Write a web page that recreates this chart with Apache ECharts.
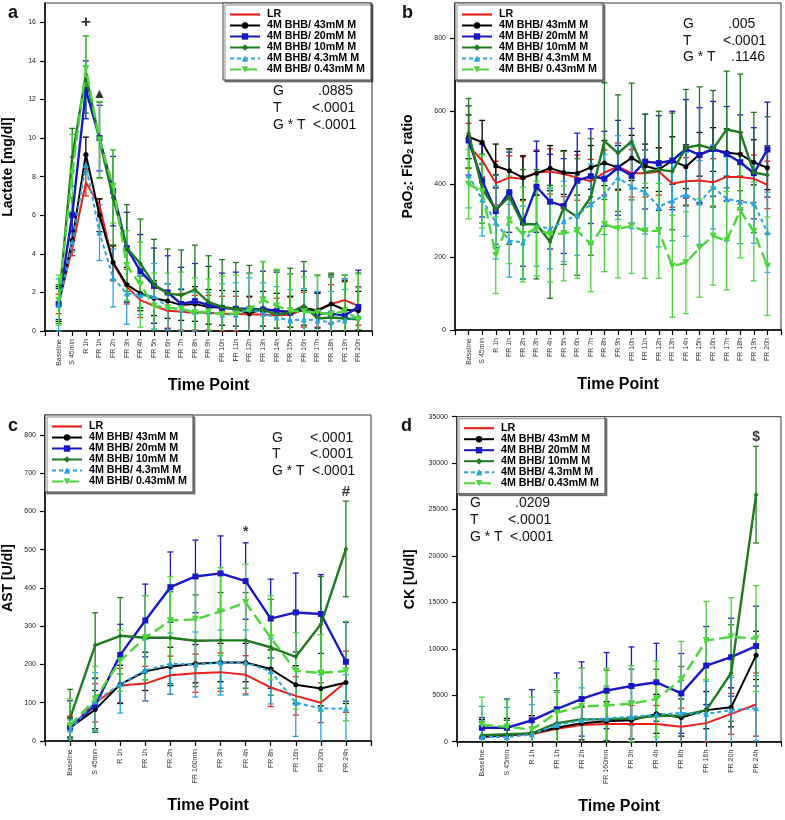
<!DOCTYPE html>
<html><head><meta charset="utf-8">
<script src="https://cdn.jsdelivr.net/npm/echarts@6/dist/echarts.min.js"></script>
<style>html,body{margin:0;padding:0;background:#fff}#c{width:785px;height:820px}</style>
</head><body><div id="c"></div>
<script>
const seriesNames = ['LR','4M BHB/ 43mM M','4M BHB/ 20mM M','4M BHB/ 10mM M','4M BHB/ 4.3mM M','4M BHB/ 0.43mM M'];
const catsAB = ['Baseline','S 45min','R 1h','FR 1h','FR 2h','FR 3h','FR 4h','FR 5h','FR 6h','FR 7h','FR 8h','FR 9h','FR 10h','FR 11h','FR 12h','FR 13h','FR 14h','FR 15h','FR 16h','FR 17h','FR 18h','FR 19h','FR 20h'];
const catsCD = ['Baseline','S 45min','R 1h','FR 1h','FR 2h','FR 160min','FR 3h','FR 4h','FR 8h','FR 16h','FR 20h','PR 24h'];

// Panel a: Lactate [mg/dl]
const lac_LR = [1.4, 4.3, 7.7, 6.5, 3.5, 2.3, 1.6, 1.3, 1.05, 1.0, 0.95, 0.95, 0.9, 0.9, 0.85, 0.85, 0.8, 0.85, 1.1, 1.1, 1.4, 1.6, 1.3];
const lac_43 = [1.4, 4.7, 9.15, 6.0, 3.55, 2.4, 1.95, 1.7, 1.55, 1.35, 1.4, 1.25, 1.2, 1.15, 0.9, 1.15, 1.05, 1.0, 1.2, 1.05, 1.4, 1.1, 1.05];
const lac_20 = [1.4, 6.0, 12.5, 10.0, 7.25, 4.3, 3.1, 2.35, 2.0, 1.4, 1.55, 1.35, 1.2, 1.15, 1.15, 1.1, 1.05, 0.95, 1.15, 0.9, 0.9, 0.8, 1.25];
const lac_10 = [1.4, 9.0, 13.3, 9.9, 6.9, 4.3, 3.5, 2.4, 1.95, 1.85, 2.15, 1.5, 1.25, 1.15, 1.05, 1.1, 0.85, 0.95, 1.3, 0.65, 0.7, 0.65, 0.6];
const lac_4 = [1.35, 4.6, 8.6, 5.1, 2.75, 1.95, 1.85, 1.8, 1.25, 1.1, 1.0, 1.0, 0.85, 0.85, 1.15, 0.9, 0.7, 0.55, 0.6, 0.55, 0.45, 0.55, 0.75];
const lac_04 = [1.6, 8.2, 13.6, 9.9, 7.5, 3.4, 2.4, 1.3, 1.2, 1.15, 0.95, 1.0, 0.85, 0.9, 1.1, 1.6, 1.3, 1.05, 1.0, 0.95, 0.85, 1.05, 0.6];
const lac_LR_sd = [0.5, 0.4, 0.7, 0.35, 0.9, 0.9, 0.9, 0.9, 0.9, 0.95, 0.9, 0.9, 0.9, 0.9, 0.9, 0.9, 0.9, 0.9, 0.9, 0.9, 1.0, 0.95, 1.0];
const lac_43_sd = [0.9, 0.5, 0.9, 0.85, 0.9, 0.9, 0.9, 0.9, 0.9, 0.8, 0.9, 0.9, 0.9, 0.9, 0.9, 0.9, 0.9, 0.8, 0.9, 0.9, 1.5, 1.5, 1.0];
const lac_20_sd = [0.8, 0.9, 1.5, 1.7, 1.8, 1.85, 1.9, 1.95, 1.9, 1.9, 1.95, 2.0, 1.8, 1.9, 1.85, 2.0, 2.0, 2.0, 1.95, 1.1, 1.9, 1.9, 1.9];
const lac_10_sd = [1.0, 1.5, 2.0, 1.95, 2.5, 2.25, 2.3, 2.35, 2.3, 2.35, 2.3, 2.4, 2.45, 2.4, 2.35, 2.5, 2.3, 2.3, 2.3, 2.25, 2.3, 2.25, 2.4];
const lac_4_sd = [1.35, 0.5, 0.5, 1.45, 1.5, 1.6, 1.0, 1.7, 1.2, 1.1, 1.0, 1.0, 1.6, 1.65, 1.6, 1.6, 1.6, 1.6, 1.6, 1.5, 1.6, 1.6, 1.5];
const lac_04_sd = [1.3, 2.0, 1.7, 2.0, 1.9, 1.8, 2.2, 1.7, 1.8, 1.9, 1.8, 1.7, 2.0, 2.0, 1.9, 2.0, 1.9, 1.9, 1.8, 1.9, 2.0, 1.85, 2.35];

// Panel b: PaO2:FiO2 ratio
const pf_LR = [505, 465, 403, 418, 415, 432, 435, 428, 418, 408, 432, 448, 430, 430, 435, 402, 408, 410, 405, 420, 420, 415, 398];
const pf_43 = [530, 515, 450, 437, 418, 430, 444, 432, 430, 446, 458, 446, 472, 450, 440, 465, 448, 482, 495, 487, 482, 460, 445];
const pf_20 = [520, 410, 326, 378, 295, 393, 352, 340, 410, 422, 415, 445, 423, 462, 458, 465, 497, 480, 497, 483, 460, 430, 495];
const pf_10 = [540, 388, 330, 365, 290, 290, 242, 335, 310, 365, 518, 485, 517, 432, 440, 435, 500, 507, 497, 550, 542, 432, 425];
const pf_4 = [425, 358, 295, 245, 240, 285, 278, 298, 315, 345, 372, 418, 393, 378, 338, 355, 372, 350, 392, 360, 352, 348, 268];
const pf_04 = [400, 380, 205, 302, 262, 278, 262, 265, 272, 235, 290, 278, 285, 272, 272, 175, 185, 225, 258, 245, 328, 270, 175];
const pf_LR_sd = [62, 45, 60, 60, 60, 62, 62, 62, 62, 60, 62, 65, 65, 65, 65, 65, 65, 65, 65, 65, 65, 65, 65];
const pf_43_sd = [60, 60, 60, 60, 60, 60, 62, 60, 60, 60, 62, 60, 62, 60, 60, 65, 60, 60, 60, 65, 60, 62, 60];
const pf_20_sd = [95, 100, 100, 110, 120, 125, 130, 130, 130, 130, 130, 130, 130, 130, 130, 135, 135, 130, 130, 130, 130, 125, 130];
const pf_10_sd = [95, 95, 95, 130, 150, 150, 155, 155, 160, 160, 160, 160, 160, 160, 160, 160, 160, 160, 160, 160, 160, 165, 160];
const pf_4_sd = [90, 100, 100, 100, 100, 110, 110, 110, 110, 110, 110, 115, 115, 115, 110, 110, 115, 115, 115, 115, 115, 110, 110];
const pf_04_sd = [95, 100, 105, 120, 130, 130, 130, 130, 130, 130, 130, 135, 130, 130, 130, 140, 140, 135, 135, 135, 130, 135, 135];

// Panel c: AST [U/dl]
const ast_LR = [35, 100, 145, 150, 172, 177, 180, 173, 140, 118, 100, 155];
const ast_43 = [35, 82, 148, 182, 195, 202, 205, 205, 188, 147, 137, 153];
const ast_20 = [35, 93, 225, 315, 402, 430, 438, 418, 320, 336, 332, 207];
const ast_10 = [60, 250, 275, 270, 270, 262, 263, 263, 245, 220, 305, 502];
const ast_4 = [30, 103, 148, 185, 202, 200, 205, 205, 182, 100, 85, 85];
const ast_04 = [40, 110, 210, 270, 315, 318, 338, 362, 270, 183, 178, 183];
const ast_LR_sd = [30, 50, 45, 45, 50, 50, 50, 50, 50, 50, 52, 80];
const ast_43_sd = [25, 50, 50, 50, 50, 50, 50, 50, 50, 50, 45, 55];
const ast_20_sd = [70, 70, 80, 95, 92, 95, 98, 100, 103, 103, 103, 103];
const ast_10_sd = [75, 85, 100, 110, 120, 120, 125, 125, 125, 120, 125, 125];
const ast_4_sd = [25, 75, 75, 80, 80, 85, 85, 85, 85, 88, 88, 88];
const ast_04_sd = [70, 85, 80, 110, 115, 115, 115, 100, 110, 100, 100, 130];

// Panel d: CK [U/dl]
const ck_LR = [600, 700, 800, 1400, 1800, 1900, 1900, 1900, 1600, 2000, 3000, 4000];
const ck_43 = [500, 700, 900, 1500, 2000, 2200, 2300, 3000, 2600, 3400, 3700, 9300];
const ck_20 = [1500, 1500, 2300, 3500, 4600, 5500, 6000, 6400, 5200, 8200, 9100, 10300];
const ck_10 = [700, 800, 900, 2000, 2400, 2400, 2500, 2800, 2800, 3400, 7400, 26600];
const ck_4 = [500, 500, 800, 1800, 2300, 2500, 2700, 2900, 3100, 3000, 3400, 3600];
const ck_04 = [1800, 1600, 1300, 3100, 3800, 3900, 4100, 4600, 6700, 10900, 11300, 11100];
const ck_LR_sd = [1800, 1800, 2000, 1900, 1900, 2000, 2000, 2000, 2000, 2000, 2200, 3400];
const ck_43_sd = [1900, 1800, 1900, 1800, 1800, 2100, 2000, 2100, 2000, 2000, 2100, 2600];
const ck_20_sd = [1100, 3100, 3300, 3900, 4000, 4100, 4200, 4200, 4300, 4200, 4200, 4300];
const ck_10_sd = [1500, 1500, 1500, 3500, 5500, 5300, 5300, 5000, 5300, 5000, 5200, 5200];
const ck_4_sd = [3300, 3200, 3200, 3500, 3500, 3500, 3500, 3500, 3500, 3500, 3500, 3500];
const ck_04_sd = [3000, 2900, 3500, 3700, 4100, 4000, 4100, 4100, 4100, 4200, 4200, 5700];

// Y axis ticks
const yTicksA = {max: 17, interval: 2};
const yTicksB = {max: 897, interval: 200};
const yTicksC = {max: 852, interval: 100};
const yTicksD = {max: 35000, interval: 5000};

// Annotations [category, value, text, fontSize]
const annA = [['R 1h', 16.0, '+', 17], ['FR 1h', 12.3, '▲', 14]];
const annC = [['FR 4h', 545, '*', 14], ['PR 24h', 652, '#', 15]];
const annD = [['PR 24h', 32760, '$', 14]];

const FONT = '"Liberation Sans", Arial, Helvetica, sans-serif';
const colors = ['#e8201c', '#000000', '#1818c4', '#1f7a1f', '#2aa4dc', '#4cd63c'];
const symbols = ['none', 'circle', 'rect', 'diamond', 'triangle', 'triangle'];
const symSizes = [0, 5, 6, 5, 6, 7];
const symRot = [0, 0, 0, 0, 0, 180];
const lineTypes = ['solid', 'solid', 'solid', 'solid', [4, 3], [11, 5]];
const lineWidths = [2, 2, 2.4, 2.4, 2, 2.4];

const panels = [
  {cats: catsAB, means: [lac_LR, lac_43, lac_20, lac_10, lac_4, lac_04], sds: [lac_LR_sd, lac_43_sd, lac_20_sd, lac_10_sd, lac_4_sd, lac_04_sd],
   grid: {left: 45, top: 3, width: 327, height: 328}, y: yTicksA, yName: 'Lactate [mg/dl]', yGap: 30, xGap: 47, legend: {left: 223, top: 3}, ann: annA, showMax: false},
  {cats: catsAB, means: [pf_LR, pf_43, pf_20, pf_10, pf_4, pf_04], sds: [pf_LR_sd, pf_43_sd, pf_20_sd, pf_10_sd, pf_4_sd, pf_04_sd],
   grid: {left: 455, top: 3, width: 326, height: 327}, y: yTicksB, yName: 'PaO{s|2}: FiO{s|2} ratio', yGap: 40, xGap: 47, legend: {left: 455, top: 3}, ann: [], showMax: false},
  {cats: catsCD, means: [ast_LR, ast_43, ast_20, ast_10, ast_4, ast_04], sds: [ast_LR_sd, ast_43_sd, ast_20_sd, ast_10_sd, ast_4_sd, ast_04_sd],
   grid: {left: 45, top: 415, width: 326, height: 326}, y: yTicksC, yName: 'AST [U/dl]', yGap: 30, xGap: 57, legend: {left: 45, top: 415}, ann: annC, showMax: false},
  {cats: catsCD, means: [ck_LR, ck_43, ck_20, ck_10, ck_4, ck_04], sds: [ck_LR_sd, ck_43_sd, ck_20_sd, ck_10_sd, ck_4_sd, ck_04_sd],
   grid: {left: 457, top: 416.7, width: 324, height: 325}, y: yTicksD, yName: 'CK [U/dl]', yGap: 40, xGap: 57, legend: {left: 457, top: 416.7}, ann: annD, showMax: true}
];

const grids = [], xAxes = [], yAxes = [], series = [], legends = [];
panels.forEach((p, gi) => {
  grids.push(Object.assign({show: true, borderColor: '#333', borderWidth: 1, backgroundColor: '#fff'}, p.grid));
  const padCats = [''].concat(p.cats, ['']);
  xAxes.push({
    type: 'category', gridIndex: gi, data: padCats, boundaryGap: false,
    axisLine: {lineStyle: {color: '#000', width: 1.5}},
    axisTick: {length: 5, interval: 0, lineStyle: {color: '#000', width: 1.2}},
    axisLabel: {interval: 0, rotate: 90, fontSize: 7, color: '#333', fontFamily: FONT, margin: 8},
    name: 'Time Point', nameLocation: 'middle', nameGap: p.xGap,
    nameTextStyle: {fontSize: 16, fontWeight: 'bold', color: '#000', fontFamily: FONT},
    splitLine: {show: false}
  });
  yAxes.push({
    type: 'value', gridIndex: gi, min: 0, max: p.y.max, interval: p.y.interval,
    axisLine: {show: true, lineStyle: {color: '#000', width: 1.5}},
    axisTick: {show: true, length: 5, lineStyle: {color: '#000', width: 1.2}},
    axisLabel: {fontSize: 7, color: '#222', fontFamily: FONT, margin: 9, showMaxLabel: p.showMax, formatter: v => String(v)},
    splitLine: {show: false},
    name: p.yName, nameLocation: 'middle', nameGap: p.yGap,
    nameTextStyle: {fontSize: 14, fontWeight: 'bold', color: '#000', fontFamily: FONT,
      rich: {s: {fontSize: 9, fontWeight: 'bold', fontFamily: FONT, color: '#000', verticalAlign: 'bottom', lineHeight: 12}}}
  });
  // error bars
  p.means.forEach((m, si) => {
    const sd = p.sds[si];
    const col = colors[si];
    series.push({
      type: 'custom', name: seriesNames[si] + ' SD', xAxisIndex: gi, yAxisIndex: gi, z: 2, silent: true,
      data: m.map((v, i) => [i + 1, Math.max(0, v - sd[i]), v + sd[i], v - sd[i] < 0 ? 1 : 0]),
      encode: {x: 0, y: [1, 2]},
      renderItem: (params, api) => {
        const x = api.value(0);
        const lo = api.coord([x, api.value(1)]);
        const hi = api.coord([x, api.value(2)]);
        const w = 3;
        const st = {stroke: col, lineWidth: 1.3};
        const ch = [
          {type: 'line', shape: {x1: lo[0], y1: lo[1], x2: hi[0], y2: hi[1]}, style: st},
          {type: 'line', shape: {x1: hi[0] - w, y1: hi[1], x2: hi[0] + w, y2: hi[1]}, style: st}
        ];
        if (!api.value(3)) ch.push({type: 'line', shape: {x1: lo[0] - w, y1: lo[1], x2: lo[0] + w, y2: lo[1]}, style: st});
        return {type: 'group', children: ch};
      }
    });
  });
  // lines
  p.means.forEach((m, si) => {
    series.push({
      type: 'line', name: seriesNames[si], xAxisIndex: gi, yAxisIndex: gi, z: 3 + si,
      data: [null].concat(m, [null]),
      symbol: symbols[si], symbolSize: symSizes[si], symbolRotate: symRot[si], showSymbol: si > 0,
      lineStyle: {color: colors[si], width: lineWidths[si], type: lineTypes[si]},
      itemStyle: {color: colors[si]},
      animation: false
    });
  });
  // annotations
  if (p.ann.length) {
    series.push({
      type: 'scatter', name: 'ann' + gi, xAxisIndex: gi, yAxisIndex: gi, symbolSize: 0, z: 20, silent: true,
      data: p.ann.map(a => ({value: [p.cats.indexOf(a[0]) + 1, a[1]], label: {formatter: a[2], fontSize: a[3]}})),
      label: {show: true, position: 'inside', color: '#000', fontWeight: 'bold', fontFamily: FONT}
    });
  }
  legends.push({
    left: p.legend.left, top: p.legend.top, orient: 'vertical',
    data: seriesNames.map((n, i) => i === 0 ? {name: n, icon: 'path://M0,0H30V2.2H0Z'} : n),
    itemGap: 0, itemWidth: 30, itemHeight: 8, selectedMode: false,
    padding: [6, 6, 5, 6],
    backgroundColor: '#fff', borderColor: '#444', borderWidth: 1,
    shadowColor: 'rgba(0,0,0,0.45)', shadowOffsetX: 2, shadowOffsetY: 2, shadowBlur: 0,
    textStyle: {fontSize: 10.7, fontWeight: 'bold', lineHeight: 10, color: '#000', fontFamily: FONT, padding: [0, 0, 0, 2]}
  });
});

function txt(x, y, t, size, bold) {
  return {type: 'text', x: x, y: y, z: 50,
    style: {text: t, fill: '#111', font: (bold ? 'bold ' : '') + size + 'px ' + FONT, align: 'left', verticalAlign: 'middle'}};
}
const graphics = [
  txt(8, 13, 'a', 18, true), txt(402, 13, 'b', 18, true), txt(8, 426, 'c', 18, true), txt(401, 426, 'd', 18, true),
  txt(273, 91, 'G', 14), txt(318, 91, '.0885', 14),
  txt(273, 108, 'T', 14), txt(312, 108, '<.0001', 14),
  txt(273, 125, 'G * T', 14), txt(313, 125, '<.0001', 14),
  txt(683, 24, 'G', 14), txt(728, 24, '.005', 14),
  txt(683, 41, 'T', 14), txt(723, 41, '<.0001', 14),
  txt(683, 57, 'G * T', 14), txt(731, 57, '.1146', 14),
  txt(272, 438, 'G', 14), txt(310, 438, '<.0001', 14),
  txt(272, 454, 'T', 14), txt(310, 454, '<.0001', 14),
  txt(272, 471, 'G * T', 14), txt(312, 471, '<.0001', 14),
  txt(470, 503, 'G', 14), txt(515, 503, '.0209', 14),
  txt(470, 520, 'T', 14), txt(508, 520, '<.0001', 14),
  txt(470, 537, 'G * T', 14), txt(510, 537, '<.0001', 14)
];

const chart = echarts.init(document.getElementById('c'), null, {renderer: 'canvas'});
chart.setOption({
  animation: false,
  backgroundColor: '#fff',
  grid: grids, xAxis: xAxes, yAxis: yAxes, series: series, legend: legends,
  graphic: graphics
});
</script>
</body></html>
